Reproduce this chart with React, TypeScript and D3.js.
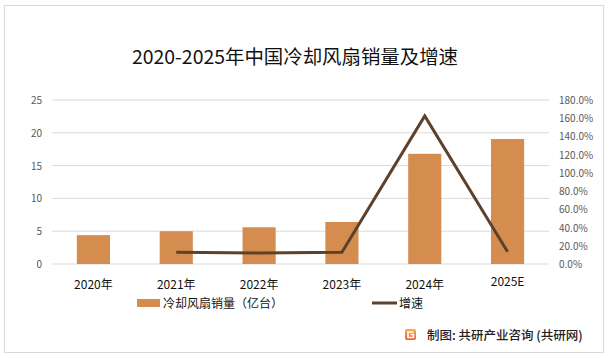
import React from "react";
import * as d3 from "d3";

const categories = ["2020年", "2021年", "2022年", "2023年", "2024年", "2025E"];
const sales = [4.4, 5.0, 5.6, 6.4, 16.8, 19.05];
const growth: (number | null)[] = [null, 12.8, 12.1, 12.8, 162.5, 13.5];
const leftTicks = [0, 5, 10, 15, 20, 25];
const rightTicks = [0, 20, 40, 60, 80, 100, 120, 140, 160, 180];

const W = 609, H = 358;
const plotL = 52, plotR = 549, plotT = 100, plotB = 264;
const FONT = "'Noto Sans CJK SC', 'Noto Sans', sans-serif";

export default function App() {
  const x = d3.scaleBand<string>().domain(categories).range([plotL, plotR]).paddingInner(0.6).paddingOuter(0.3);
  const xc = (c: string) => (x(c) as number) + x.bandwidth() / 2;
  const yL = d3.scaleLinear().domain([0, 25]).range([plotB, plotT]);
  const yR = d3.scaleLinear().domain([0, 180]).range([plotB, plotT]);
  const line = d3
    .line<{ c: string; v: number | null }>()
    .defined((d) => d.v !== null)
    .x((d) => xc(d.c))
    .y((d) => yR(d.v as number));
  const lineData = categories.map((c, i) => ({ c, v: growth[i] }));

  return (
    <svg width={W} height={H} style={{ position: "absolute", left: 0, top: 0 }} fontFamily={FONT}>
      <defs>
        <linearGradient id="lg" x1="0" y1="0" x2="0" y2="1">
          <stop offset="0" stopColor="#f7b24a" />
          <stop offset="1" stopColor="#ee5b2a" />
        </linearGradient>
      </defs>
      <rect x={0} y={0} width={W} height={H} fill="#fff" />
      <rect x={4.5} y={5.5} width={599} height={347} fill="#fff" stroke="#d9d9d9" strokeWidth={1} />
      <text x={132} y={64} fontSize={19} fill="#111" textLength={326} lengthAdjust="spacingAndGlyphs">
        2020-2025年中国冷却风扇销量及增速
      </text>
      {leftTicks.map((t) => (
        <g key={"l" + t}>
          <line x1={plotL} x2={plotR} y1={yL(t)} y2={yL(t)} stroke="#d9d9d9" strokeWidth={1} />
          <text x={42} y={yL(t) + 4} textAnchor="end" fontSize={10} fill="#595959">
            {t}
          </text>
        </g>
      ))}
      {rightTicks.map((t) => (
        <text key={"r" + t} x={559} y={yR(t) + 4} textAnchor="start" fontSize={10} fill="#595959">
          {t.toFixed(1) + "%"}
        </text>
      ))}
      {categories.map((c, i) => (
        <rect key={c} x={x(c)} y={yL(sales[i])} width={x.bandwidth()} height={plotB - yL(sales[i])} fill="#d48c4f" />
      ))}
      <path d={line(lineData) || ""} fill="none" stroke="#5e412b" strokeWidth={3} strokeLinejoin="miter" />
      {categories.map((c, i) => (
        <text key={"x" + c} x={xc(c)} y={i === 5 ? 286 : 289} textAnchor="middle" fontSize={12} fill="#111">
          {c}
        </text>
      ))}
      <rect x={137} y={299} width={23} height={8} fill="#d48c4f" />
      <text x={163} y={308} fontSize={12} fill="#111">冷却风扇销量（亿台）</text>
      <line x1={372} x2={397} y1={303} y2={303} stroke="#5e412b" strokeWidth={3} />
      <text x={399} y={308} fontSize={12} fill="#111">增速</text>
      <g transform="translate(405,329)">
        <rect x={0} y={0} width={11} height={11} rx={2} fill="url(#lg)" />
        <path d="M8.5,3 H3 V8.5 H8.5 V5.5 H5.5" fill="none" stroke="#fff" strokeWidth={1.6} />
      </g>
      <text x={427} y={340} fontSize={12.5} fontWeight={500} fill="#222">
        制图: 共研产业咨询 (共研网)
      </text>
    </svg>
  );
}
